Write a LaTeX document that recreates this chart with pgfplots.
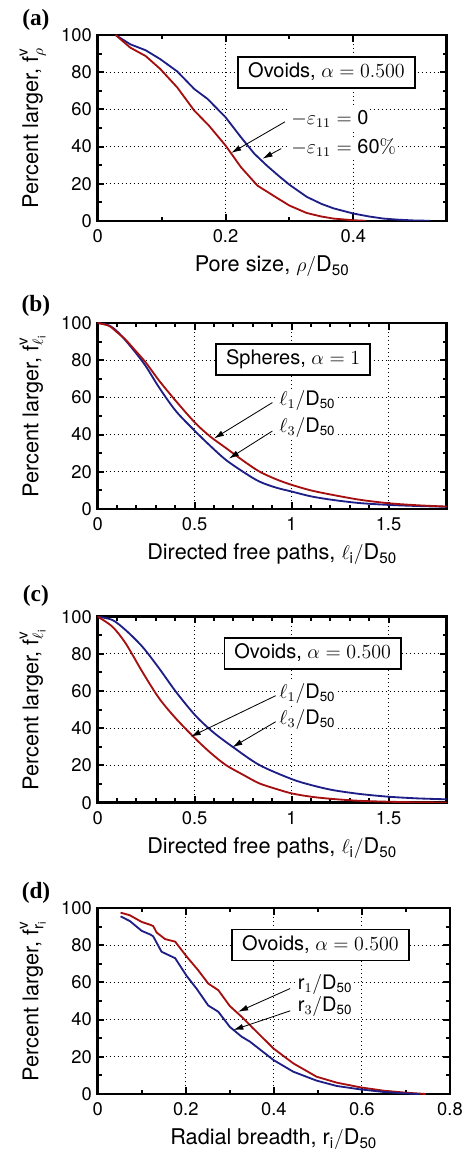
\documentclass[border=0pt]{standalone}
\usepackage{amsmath}
\usepackage[no-math]{fontspec}
\setmainfont{TeX Gyre Heros}
\newfontfamily\panelfont{Liberation Serif}
\usepackage{pgfplots}
\pgfplotsset{compat=1.18}
\usetikzlibrary{arrows.meta}
\definecolor{cred}{RGB}{165,15,15}
\definecolor{cblue}{RGB}{30,30,135}
\newcommand{\lfont}{\fontsize{13}{15}\selectfont}
\newcommand{\afont}{\fontsize{12}{14}\selectfont}
\newcommand{\pfont}{\panelfont\bfseries\fontsize{14}{16}\selectfont}
\pgfplotsset{
 panel/.style={
   scale only axis, width=209.4pt, height=111.6pt,
   anchor=south west, clip mode=individual,
   ymin=0, ymax=100, ytick={0,20,...,100},
   minor y tick num=1,
   grid=major,
   major grid style={dotted, black, line width=0.5pt},
   axis line style={line width=1.6pt},
   every tick/.style={black, line width=1.2pt},
   major tick length=4pt, minor tick length=2.5pt,
   tick align=inside,
   /pgf/number format/assume math mode=true,
   tick label style={font=\fontsize{11}{13}\selectfont},
   xticklabel style={yshift=-1.5pt},
   every axis y label/.style={at={(axis description cs:-0.186,0.5)}, rotate=90, anchor=center, font=\lfont},
   every axis x label/.style={at={(axis description cs:0.5,-0.245)}, anchor=center, font=\lfont},
 },
 cr/.style={cred, line width=1.1pt},
 cb/.style={cblue, line width=1.1pt},
}
\tikzset{
 box/.style={draw, fill=white, line width=1pt, inner xsep=6pt, inner ysep=3.3pt, text height=9pt, text depth=3pt, font=\afont},
 lab/.style={fill=white, inner sep=1pt, anchor=west, font=\afont},
 arr/.style={-{Latex[length=6pt,width=3.5pt]}, line width=0.5pt},
 plab/.style={font=\pfont, anchor=center},
}
\begin{document}
\begin{tikzpicture}
\path[use as bounding box] (0,0) rectangle (279pt,693pt);
% (a)
\begin{axis}[panel, at={(58.6pt,560.4pt)},
  xmin=0, xmax=0.546, xtick={0,0.2,0.4}, minor x tick num=1,
  xlabel={Pore size, $\rho/\text{D}_{\text{50}}$},
  ylabel={Percent larger, $\text{f}^{\text{v}}_{\rho}$}]
\addplot[cb] coordinates {(0.028,100)(0.051,95)(0.075,91.8)(0.098,87)(0.1245,80.4)(0.151,71)(0.172,65.6)(0.2,55.8)(0.224,45.1)(0.245,36.2)(0.264,30)(0.282,24.6)(0.30,19.5)(0.327,13)(0.35,9.2)(0.369,6.8)(0.40,4)(0.425,2.4)(0.447,1.3)(0.47,0.7)(0.494,0.3)(0.52,0.1)};
\addplot[cr] coordinates {(0.028,100)(0.051,93.2)(0.075,88.7)(0.098,81.7)(0.1245,71.8)(0.151,59.4)(0.174,51.3)(0.2,40.6)(0.224,29)(0.25,19)(0.282,12.1)(0.30,8.3)(0.327,4.3)(0.35,2.4)(0.369,1.3)(0.40,0.4)(0.42,0.1)};
\node[box] at (axis cs:0.358,79.8) {Ovoids, $\alpha = 0.500$};
\draw[arr] (axis cs:0.293,53.3) -- (axis cs:0.209,36.6);
\draw[arr] (axis cs:0.287,38.9) -- (axis cs:0.258,33.5);
\node[lab] at (axis cs:0.300,55) {$-\varepsilon_{11} = \text{0}$};
\node[lab] at (axis cs:0.300,39.6) {$-\varepsilon_{11} = \text{60}\%$};
\node[plab] at (axis description cs:-0.177,1.08) {(a)};
\end{axis}
% (b)
\begin{axis}[panel, at={(58.6pt,387.6pt)},
  xmin=0, xmax=1.8, xtick={0,0.5,1,1.5}, minor x tick num=4,
  xlabel={Directed free paths, $\ell_{\text{i}}/\text{D}_{\text{50}}$},
  ylabel={Percent larger, $\text{f}^{\text{v}}_{\ell_{\text{i}}}$}]
\addplot[cb, smooth] coordinates {(0,100)(0.058,98.7)(0.1,95.5)(0.144,90.6)(0.2,83.5)(0.25,76.5)(0.317,65.3)(0.403,52.7)(0.502,41.9)(0.58,34)(0.66,26.5)(0.75,20)(0.833,14.8)(0.92,11.5)(1.0,9.4)(1.1,6.8)(1.211,4.9)(1.35,3.2)(1.5,2.2)(1.65,1.6)(1.8,1.2)};
\addplot[cr, smooth] coordinates {(0,100)(0.058,98.5)(0.1,95)(0.144,91)(0.2,84.5)(0.25,78.5)(0.317,69)(0.403,58.1)(0.502,46.4)(0.58,39)(0.66,32.9)(0.75,26)(0.833,20.2)(0.92,16)(1.0,13)(1.1,10)(1.211,7.6)(1.35,5)(1.5,3.1)(1.65,2)(1.8,1.3)};
\node[box] at (axis cs:1.008,80.3) {Spheres, $\alpha = 1$};
\draw[arr] (axis cs:0.901,57.2) -- (axis cs:0.600,37.9);
\draw[arr] (axis cs:0.901,41.9) -- (axis cs:0.677,27.1);
\node[lab] at (axis cs:0.927,58.1) {$\ell_1/\text{D}_{\text{50}}$};
\node[lab] at (axis cs:0.927,44) {$\ell_3/\text{D}_{\text{50}}$};
\node[plab] at (axis description cs:-0.177,1.094) {(b)};
\end{axis}
% (c)
\begin{axis}[panel, at={(58.6pt,211.4pt)},
  xmin=0, xmax=1.8, xtick={0,0.5,1,1.5}, minor x tick num=4,
  xlabel={Directed free paths, $\ell_{\text{i}}/\text{D}_{\text{50}}$},
  ylabel={Percent larger, $\text{f}^{\text{v}}_{\ell_{\text{i}}}$}]
\addplot[cb, smooth] coordinates {(0,100)(0.076,98.2)(0.144,92.8)(0.23,83.9)(0.317,72.2)(0.403,59.7)(0.502,47.1)(0.592,38.2)(0.695,30.1)(0.833,20.3)(1.0,12.7)(1.1,9.5)(1.211,6.8)(1.35,4.7)(1.5,3.2)(1.65,2.3)(1.8,1.8)};
\addplot[cr, smooth] coordinates {(0,100)(0.076,94.6)(0.144,85.7)(0.23,70.4)(0.317,56.1)(0.403,45.3)(0.502,34.6)(0.58,27)(0.66,20.3)(0.75,15)(0.833,10.4)(0.92,7.4)(1.0,5)(1.1,3.2)(1.211,2)(1.35,1)(1.5,0.5)(1.65,0.2)(1.8,0.1)};
\node[box] at (axis cs:1.109,80.3) {Ovoids, $\alpha = 0.500$};
\draw[arr] (axis cs:0.918,57.5) -- (axis cs:0.48,35.5);
\draw[arr] (axis cs:0.918,43.5) -- (axis cs:0.695,29.8);
\node[lab] at (axis cs:0.927,58.8) {$\ell_1/\text{D}_{\text{50}}$};
\node[lab] at (axis cs:0.927,44.5) {$\ell_3/\text{D}_{\text{50}}$};
\node[plab] at (axis description cs:-0.177,1.11) {(c)};
\end{axis}
% (d)
\begin{axis}[panel, at={(58.6pt,36.6pt)}, width=211.4pt,
  xmin=0, xmax=0.8, xtick={0,0.2,...,0.8}, minor x tick num=1,
  xlabel={Radial breadth, $\text{r}_{\text{i}}/\text{D}_{\text{50}}$},
  ylabel={Percent larger, $\text{f}^{\text{v}}_{\text{r}_{\text{i}}}$},
  every axis y label/.style={at={(axis description cs:-0.184,0.5)}, rotate=90, anchor=center, font=\lfont}]
\addplot[cr] coordinates {(0.052,97.5)(0.073,96.1)(0.1,92.5)(0.119,91)(0.126,90.3)(0.134,86.8)(0.153,83.3)(0.176,81.9)(0.202,73.9)(0.228,66.6)(0.251,59.4)(0.274,55.8)(0.30,47.3)(0.327,41.5)(0.353,35.3)(0.38,29)(0.399,24.5)(0.444,16.5)(0.497,9.3)(0.543,6.1)(0.596,3.6)(0.649,1.8)(0.70,0.7)(0.745,0)};
\addplot[cb] coordinates {(0.052,95.5)(0.073,93)(0.1,87.7)(0.119,85.8)(0.126,84.8)(0.145,76.5)(0.176,73)(0.202,63.5)(0.225,56.5)(0.251,47.6)(0.274,44.2)(0.30,36.1)(0.327,30.8)(0.346,28.1)(0.399,18.3)(0.444,12)(0.497,7.2)(0.543,4.3)(0.596,2.5)(0.649,1.1)(0.70,0.3)(0.73,0)};
\node[box] at (axis cs:0.506,80.1) {Ovoids, $\alpha = 0.500$};
\draw[arr] (axis cs:0.437,56.7) -- (axis cs:0.319,44.2);
\draw[arr] (axis cs:0.437,44.7) -- (axis cs:0.308,34.4);
\node[lab] at (axis cs:0.450,59) {$\text{r}_1/\text{D}_{\text{50}}$};
\node[lab] at (axis cs:0.450,46.9) {$\text{r}_3/\text{D}_{\text{50}}$};
\node[plab] at (axis description cs:-0.175,1.08) {(d)};
\end{axis}
\end{tikzpicture}
\end{document}
